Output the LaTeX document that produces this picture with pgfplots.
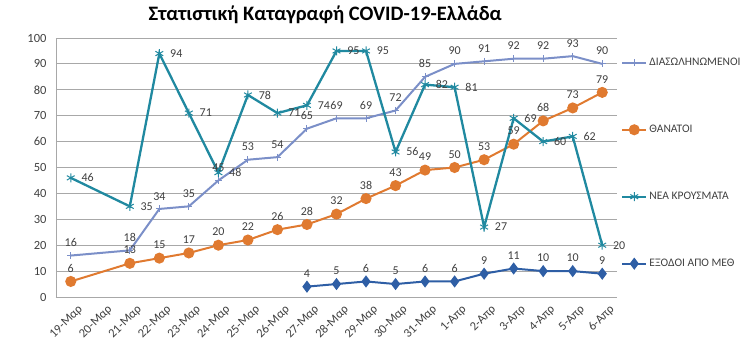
\documentclass[border=0pt]{standalone}
\usepackage{pgfplots}
\pgfplotsset{compat=1.18}
\usepackage{fontspec}
\setmainfont{Carlito}
\definecolor{cLB}{HTML}{7B8FC8}
\definecolor{cOR}{HTML}{E07A30}
\definecolor{cTE}{HTML}{2089A0}
\definecolor{cDB}{HTML}{2E5EA5}
\definecolor{gridc}{HTML}{A8A8A8}
\definecolor{textc}{HTML}{404040}
\begin{document}
\begin{tikzpicture}
\path[use as bounding box] (-56pt,-56pt) rectangle (694pt,297pt);
\begin{axis}[
  scale only axis, width=561pt, height=259pt,
  xmin=-0.5, xmax=18.5, ymin=0, ymax=100,
  xtick={0,...,18},
  xticklabels={19-Μαρ,20-Μαρ,21-Μαρ,22-Μαρ,23-Μαρ,24-Μαρ,25-Μαρ,26-Μαρ,27-Μαρ,28-Μαρ,29-Μαρ,30-Μαρ,31-Μαρ,1-Απρ,2-Απρ,3-Απρ,4-Απρ,5-Απρ,6-Απρ},
  ytick={0,10,...,100},
  axis x line=bottom, axis y line=left,
  axis line style={draw=gridc, line width=0.8pt, -},
  ymajorgrids, grid style={gridc, line width=0.8pt},
  major tick length=0pt,
  x tick label style={rotate=45, anchor=north east, font=\fontsize{12.5}{14}\selectfont, text=textc, xshift=3pt, yshift=-6pt},
  y tick label style={font=\fontsize{12.5}{14}\selectfont, text=textc, xshift=-6pt},
  /pgf/number format/assume math mode=true,
  clip=false,
  title={Στατιστική Καταγραφή COVID-19-Ελλάδα},
  title style={at={(0.48,1)}, anchor=center, yshift=17pt, font=\bfseries\fontsize{20.5}{24}\selectfont},
  legend style={at={(1.007,0.93)}, anchor=north west, draw=none, fill=none,
    font=\fontsize{11.5}{13}\selectfont, text=textc, row sep=54pt, inner sep=0pt},
  legend cell align=left,
  legend image code/.code={\draw[mark repeat=2,mark phase=2] plot coordinates {(0pt,0pt)(12pt,0pt)(24pt,0pt)};},
  nodes near coords style={font=\fontsize{12}{14}\selectfont, text=textc},
]
\addplot[cLB, line width=2pt, mark=+, mark size=3.5pt, mark options={line width=1pt},
  nodes near coords, every node near coord/.append style={anchor=south, yshift=5pt}]
  coordinates {(0,16)(2,18)(3,34)(4,35)(5,45)(6,53)(7,54)(8,65)(9,69)(10,69)(11,72)(12,85)(13,90)(14,91)(15,92)(16,92)(17,93)(18,90)};
\addlegendentry{ΔΙΑΣΩΛΗΝΩΜΕΝΟΙ}
\addplot[cOR, line width=2pt, mark=*, mark size=4.5pt,
  nodes near coords, every node near coord/.append style={anchor=south, yshift=5pt}]
  coordinates {(0,6)(2,13)(3,15)(4,17)(5,20)(6,22)(7,26)(8,28)(9,32)(10,38)(11,43)(12,49)(13,50)(14,53)(15,59)(16,68)(17,73)(18,79)};
\addlegendentry{ΘΑΝΑΤΟΙ}
\addplot[cTE, line width=2.3pt, mark=asterisk, mark size=4.5pt, mark options={line width=1pt},
  nodes near coords, every node near coord/.append style={anchor=west, xshift=7pt}]
  coordinates {(0,46)(2,35)(3,94)(4,71)(5,48)(6,78)(7,71)(8,74)(9,95)(10,95)(11,56)(12,82)(13,81)(14,27)(15,69)(16,60)(17,62)(18,20)};
\addlegendentry{ΝΕΑ ΚΡΟΥΣΜΑΤΑ}
\addplot[cDB, line width=2pt, mark=diamond*, mark size=4.5pt,
  nodes near coords, every node near coord/.append style={anchor=south, yshift=5pt}]
  coordinates {(8,4)(9,5)(10,6)(11,5)(12,6)(13,6)(14,9)(15,11)(16,10)(17,10)(18,9)};
\addlegendentry{ΕΞΟΔΟΙ ΑΠΟ ΜΕΘ}
\end{axis}
\end{tikzpicture}
\end{document}
